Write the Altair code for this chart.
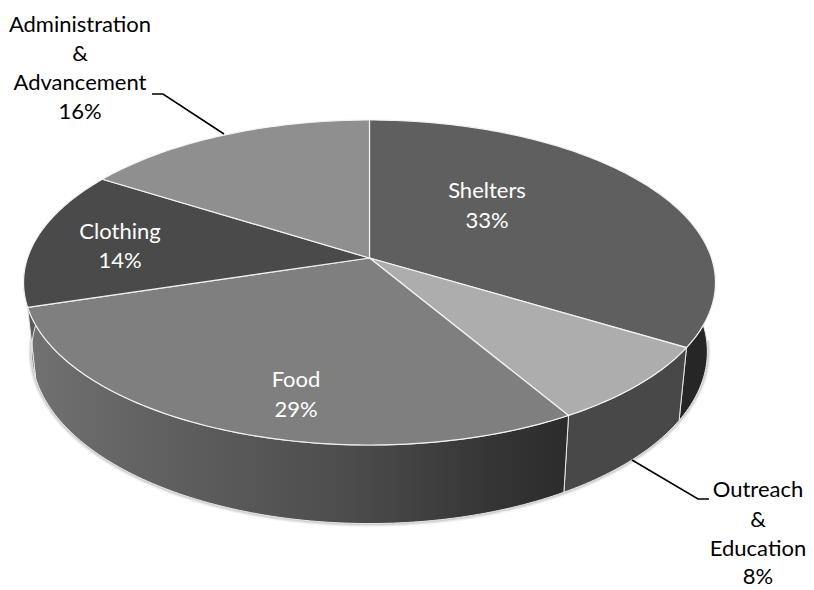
import math
import altair as alt
import pandas as pd

# slice data (clockwise from 12 o'clock)
categories = ["Shelters", "Outreach & Education", "Food", "Clothing", "Administration & Advancement"]
shares = [33.7, 7.85, 28.65, 13.8, 16.0]
top_colors = ["#5f5f5f", "#adadad", "#7f7f7f", "#4a4a4a", "#8f8f8f"]

# label rows: text, position
inner_rows = [("Shelters", 487, 191), ("33%", 487, 221), ("Clothing", 120, 232), ("14%", 120, 261),
              ("Food", 296, 380), ("29%", 296, 410)]
outer_rows = [("Administration", 80, 25), ("&", 80, 54), ("Advancement", 80, 83), ("16%", 80, 112),
              ("Outreach", 758, 490), ("&", 758, 520), ("Education", 758, 549), ("8%", 758, 577)]
leaders = [[(152, 94), (163, 94), (224, 134)], [(632, 460), (698, 499), (709, 499)]]

CX = 369.5
PERSP = 0.1508


def top(a):
    x, y = math.sin(a), math.cos(a)
    d = 1 + PERSP * y
    return CX + 342 * x / d, (258 - 119.9 * y) / d


def bot(a):
    x, y = math.sin(a), math.cos(a)
    d = 1 + PERSP * y
    return CX + 334 * x / d, (325.8 - 118.8 * y) / d


def arc(fn, d0, d1, n=None):
    n = n or max(2, int(abs(d1 - d0)))
    return [fn(math.radians(d0 + (d1 - d0) * k / n)) for k in range(n + 1)]


X = alt.X("x:Q", scale=alt.Scale(domain=[8, 806], nice=False, zero=False), axis=None)
Y = alt.Y("y:Q", scale=alt.Scale(domain=[590, 8], nice=False, zero=False), axis=None)


def shape(points, **mark):
    df = pd.DataFrame(points, columns=["x", "y"])
    df["i"] = range(len(df))
    return alt.Chart(df).mark_line(**mark).encode(x=X, y=Y, order="i:Q")


def gradient(stops):
    return alt.LinearGradient(
        gradient="linear", x1=0, x2=1, y1=0, y2=0,
        stops=[alt.GradientStop(offset=o, color=c) for o, c in stops],
    )


edges = [0]
for s in shares:
    edges.append(edges[-1] + s * 3.6)

layers = []

# soft shadow under the lower rim
for w, op in [(7, 0.07), (5, 0.1), (3, 0.16)]:
    layers.append(shape(arc(bot, 95, 272), stroke="#606060", strokeWidth=w, opacity=op))

# side walls (visible part only)
WALLS = [
    (86, edges[1], "#262626"),
    (edges[1], edges[2], "#484848"),
    (edges[2], edges[3], gradient([(0, "#727272"), (0.1, "#6a6a6a"), (0.25, "#606060"),
                                   (0.6, "#4c4c4c"), (0.88, "#333333"), (1, "#2c2c2c")])),
    (edges[3], 274, "#5a5a5a"),
]
for d0, d1, col in WALLS:
    pts = arc(top, d0, d1) + arc(bot, d1, d0)
    pts.append(pts[0])
    layers.append(shape(pts, fill=col, stroke="#e8e8e8", strokeWidth=1))

# top faces
for k, col in enumerate(top_colors):
    pts = [(CX, 258)] + arc(top, edges[k], edges[k + 1]) + [(CX, 258)]
    layers.append(shape(pts, fill=col, stroke="#f2f2f2", strokeWidth=1.2, strokeJoin="round"))

# leader lines
for pts in leaders:
    layers.append(shape(pts, stroke="black", strokeWidth=1.6))


def text_layer(rows, color):
    df = pd.DataFrame(rows, columns=["t", "x", "y"])
    return alt.Chart(df).mark_text(font="Lato", fontSize=22, color=color, align="center",
                                   baseline="middle").encode(x=X, y=Y, text="t:N")


layers.append(text_layer(inner_rows, "white"))
layers.append(text_layer(outer_rows, "black"))

chart = alt.layer(*layers).properties(
    width=798, height=582, padding=0, autosize=alt.AutoSizeParams(type="none"), background="white",
).configure_view(stroke=None)

chart.save("out.html", embed_options={"renderer": "svg", "actions": False})
